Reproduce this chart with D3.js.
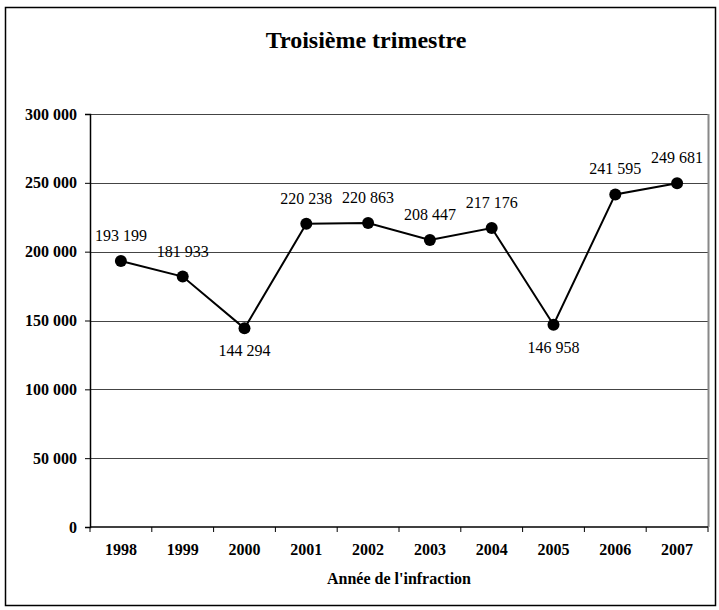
<!DOCTYPE html>
<meta charset="utf-8">
<style>
  body { margin: 0; background: #fff; }
  text { font-family: "Liberation Serif", "Times New Roman", serif; }
</style>
<div id="chart"></div>
<script src="https://cdn.jsdelivr.net/npm/d3@7"></script>
<script>

// data
var years = ["1998", "1999", "2000", "2001", "2002", "2003", "2004", "2005", "2006", "2007"];
var values = [193199, 181933, 144294, 220238, 220863, 208447, 217176, 146958, 241595, 249681];
var yTicks = [0, 50000, 100000, 150000, 200000, 250000, 300000];
var labelsBelow = ["2000", "2005"];

var data = years.map(function(d, i) { return {year: d, value: values[i]}; });

var W = 719, H = 610;
var margin = {top: 114, right: 11, bottom: 83, left: 90},
    width = W - margin.left - margin.right,
    height = H - margin.top - margin.bottom;

var svg = d3.select("#chart")
  .append("svg")
    .attr("width", W)
    .attr("height", H);

// outer frame
svg.append("rect")
  .attr("x", 5.5).attr("y", 7.5)
  .attr("width", 710).attr("height", 598)
  .attr("fill", "none")
  .attr("stroke", "#000")
  .attr("stroke-width", 1.5);

// title
svg.append("text")
  .attr("x", 366)
  .attr("y", 48)
  .attr("text-anchor", "middle")
  .style("font-size", "24px")
  .style("font-weight", "bold")
  .text("Troisième trimestre");

var g = svg.append("g")
  .attr("transform", "translate(" + margin.left + "," + margin.top + ")");

var x = d3.scaleBand()
  .domain(years)
  .range([0, width]);

var y = d3.scaleLinear()
  .domain([0, 300000])
  .range([height, 0]);

var fmt = function(v) { return d3.format(",")(v).replace(/,/g, " "); };

// gridlines
g.append("g")
  .selectAll("line")
  .data(yTicks.filter(function(d) { return d > 0; }))
  .enter()
  .append("line")
    .attr("x1", 0).attr("x2", width)
    .attr("y1", function(d) { return Math.round(y(d)) + 0.5; })
    .attr("y2", function(d) { return Math.round(y(d)) + 0.5; })
    .attr("stroke", "#444")
    .attr("stroke-width", 1);

// plot border right side
g.append("line")
  .attr("x1", width + 0.5).attr("x2", width + 0.5)
  .attr("y1", 0).attr("y2", height)
  .attr("stroke", "#888").attr("stroke-width", 2);

// y axis
var yAxis = g.append("g")
  .call(d3.axisLeft(y).tickValues(yTicks).tickSize(5).tickFormat(fmt));
yAxis.select(".domain").attr("stroke", "#000").attr("stroke-width", 1.5);
yAxis.selectAll(".tick text")
  .attr("x", -13)
  .style("font-family", "Liberation Serif")
  .style("font-size", "16px")
  .style("font-weight", "bold")
  .attr("fill", "#000");

// x axis with ticks between categories
var xg = g.append("g")
  .attr("transform", "translate(0," + height + ")");
xg.append("line")
  .attr("x1", 0).attr("x2", width)
  .attr("stroke", "#000").attr("stroke-width", 1.5);
xg.selectAll(".sep")
  .data(years.concat(["end"]))
  .enter()
  .append("line")
    .attr("class", "sep")
    .attr("x1", function(d, i) { return i * x.step(); })
    .attr("x2", function(d, i) { return i * x.step(); })
    .attr("y1", 0).attr("y2", 5)
    .attr("stroke", "#000");
xg.selectAll(".xl")
  .data(years)
  .enter()
  .append("text")
    .attr("class", "xl")
    .attr("x", function(d) { return x(d) + x.bandwidth() / 2; })
    .attr("y", 28)
    .attr("text-anchor", "middle")
    .style("font-size", "16px")
    .style("font-weight", "bold")
    .text(function(d) { return d; });

// x axis title
svg.append("text")
  .attr("x", margin.left + width / 2)
  .attr("y", 584)
  .attr("text-anchor", "middle")
  .style("font-size", "16px")
  .style("font-weight", "bold")
  .text("Année de l'infraction");

var cx = function(d) { return x(d.year) + x.bandwidth() / 2; };

// line
g.append("path")
  .datum(data)
  .attr("fill", "none")
  .attr("stroke", "#000")
  .attr("stroke-width", 2)
  .attr("d", d3.line().x(cx).y(function(d) { return y(d.value); }));

// points
g.selectAll(".pt")
  .data(data)
  .enter()
  .append("circle")
    .attr("class", "pt")
    .attr("cx", cx)
    .attr("cy", function(d) { return y(d.value); })
    .attr("r", 6)
    .attr("fill", "#000");

// value labels
g.selectAll(".vl")
  .data(data)
  .enter()
  .append("text")
    .attr("class", "vl")
    .attr("x", cx)
    .attr("y", function(d) {
      return labelsBelow.indexOf(d.year) >= 0 ? y(d.value) + 28 : y(d.value) - 20;
    })
    .attr("text-anchor", "middle")
    .style("font-size", "16px")
    .text(function(d) { return fmt(d.value); });

</script>
